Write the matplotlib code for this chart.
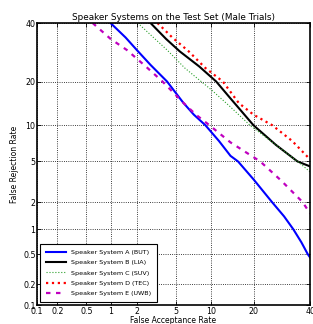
import math
import numpy as np
import matplotlib
matplotlib.use("Agg")
import matplotlib.pyplot as plt
from matplotlib.ticker import FixedLocator, FixedFormatter

# DET curves, values in percent (false acceptance, false rejection)
far_a = [1.0, 1.5, 2.0, 2.8, 4.1, 5.8, 7.2, 9.0, 11.5, 14.0, 15.8, 20.0, 25.8, 30.0, 33.4, 36.5, 39.0, 40.0]
frr_a = [40.0, 34.5, 30.0, 25.0, 20.0, 14.6, 12.0, 10.0, 7.5, 5.6, 5.0, 3.4, 2.0, 1.4, 1.0, 0.7, 0.5, 0.45]

far_b = [2.8, 4.0, 5.4, 8.0, 10.95, 13.9, 20.0, 27.0, 35.0, 40.0]
frr_b = [40.0, 34.0, 29.5, 24.5, 20.0, 15.7, 10.0, 7.0, 5.0, 4.5]

far_c = [2.05, 3.0, 4.1, 6.0, 8.3, 10.0, 13.9, 19.0, 27.0, 36.0, 40.0]
frr_c = [40.0, 34.5, 30.0, 24.0, 20.0, 17.8, 13.7, 10.0, 7.0, 4.8, 4.0]

far_d = [3.3, 4.6, 6.5, 9.0, 12.3, 16.0, 20.0, 25.9, 33.0, 40.0]
frr_d = [40.0, 34.5, 29.5, 24.0, 20.0, 14.5, 12.0, 10.0, 7.5, 5.2]

far_e = [0.6, 1.0, 1.55, 2.5, 3.7, 5.8, 7.5, 9.7, 14.0, 22.0, 29.0, 37.0, 40.0]
frr_e = [40.0, 34.0, 30.0, 24.5, 20.0, 14.6, 12.0, 10.0, 7.3, 5.0, 3.3, 2.0, 1.5]

labels = ["Speaker System A (BUT)", "Speaker System B (LIA)", "Speaker System C (SUV)",
          "Speaker System D (TEC)", "Speaker System E (UWB)"]
ticks = [0.1, 0.2, 0.5, 1, 2, 5, 10, 20, 40]
tick_labels = ["0.1", "0.2", "0.5", "1", "2", "5", "10", "20", "40"]

# probit (normal deviate) scale, Acklam approximation
A = [-3.969683028665376e+01, 2.209460984245205e+02, -2.759285104469687e+02,
     1.383577518672690e+02, -3.066479806614716e+01, 2.506628277459239e+00]
B = [-5.447609879822406e+01, 1.615858368580409e+02, -1.556989798598866e+02,
     6.680131188771972e+01, -1.328068155288572e+01]
C = [-7.784894002430293e-03, -3.223964580411365e-01, -2.400758277161838e+00,
     -2.549671348754090e+00, 4.374664141464968e+00, 2.938163982698783e+00]
D = [7.784695709041462e-03, 3.224671290700398e-01, 2.445134137142996e+00,
     3.754408661907416e+00]


def ppf1(p):
    if p < 0.02425:
        q = math.sqrt(-2 * math.log(p))
        return (((((C[0]*q + C[1])*q + C[2])*q + C[3])*q + C[4])*q + C[5]) / \
            ((((D[0]*q + D[1])*q + D[2])*q + D[3])*q + 1)
    if p > 1 - 0.02425:
        q = math.sqrt(-2 * math.log(1 - p))
        return -(((((C[0]*q + C[1])*q + C[2])*q + C[3])*q + C[4])*q + C[5]) / \
            ((((D[0]*q + D[1])*q + D[2])*q + D[3])*q + 1)
    q = p - 0.5
    r = q * q
    return (((((A[0]*r + A[1])*r + A[2])*r + A[3])*r + A[4])*r + A[5]) * q / \
        (((((B[0]*r + B[1])*r + B[2])*r + B[3])*r + B[4])*r + 1)


_ppf = np.vectorize(ppf1, otypes=[float])
_erf = np.vectorize(math.erf, otypes=[float])


def forward(x):
    x = np.clip(np.asarray(x, dtype=float) / 100.0, 1e-9, 1 - 1e-9)
    return _ppf(x)


def inverse(z):
    z = np.asarray(z, dtype=float)
    return 100.0 * 0.5 * (1 + _erf(z / math.sqrt(2)))


fig = plt.figure(figsize=(3.13, 3.24), dpi=100)
ax = fig.add_axes([0.118, 0.058, 0.873, 0.871])

ax.plot(far_a, frr_a, color="blue", lw=1.5, label=labels[0])
ax.plot(far_b, frr_b, color="black", lw=1.5, label=labels[1])
ax.plot(far_c, frr_c, color="#2ca02c", lw=0.8, ls=":", label=labels[2])
ax.plot(far_d, frr_d, color="red", lw=1.6, ls=":", label=labels[3])
ax.plot(far_e, frr_e, color="m", lw=1.6, ls="--", dashes=(2, 2.5), label=labels[4])

ax.set_xscale("function", functions=(forward, inverse))
ax.set_yscale("function", functions=(forward, inverse))
ax.set_xlim(0.1, 40)
ax.set_ylim(0.1, 40)
for axis in (ax.xaxis, ax.yaxis):
    axis.set_major_locator(FixedLocator(ticks))
    axis.set_major_formatter(FixedFormatter(tick_labels))
    axis.set_minor_locator(FixedLocator([]))

ax.tick_params(direction="in", length=3, width=0.6, labelsize=5.7, top=True, right=True, pad=1)
ax.grid(True, color="black", ls=":", lw=0.6)
for s in ax.spines.values():
    s.set_linewidth(1.2)

ax.set_title("Speaker Systems on the Test Set (Male Trials)", fontsize=6.4, pad=2)
ax.set_xlabel("False Acceptance Rate", fontsize=5.5, labelpad=0)
ax.set_ylabel("False Rejection Rate", fontsize=5.5, labelpad=3)

leg = ax.legend(loc="lower left", fontsize=4.6, fancybox=False, framealpha=1,
                edgecolor="black", borderpad=0.9, labelspacing=0.75, handlelength=3.2)
leg.get_frame().set_linewidth(0.8)

fig.savefig("out.png", dpi=100)
